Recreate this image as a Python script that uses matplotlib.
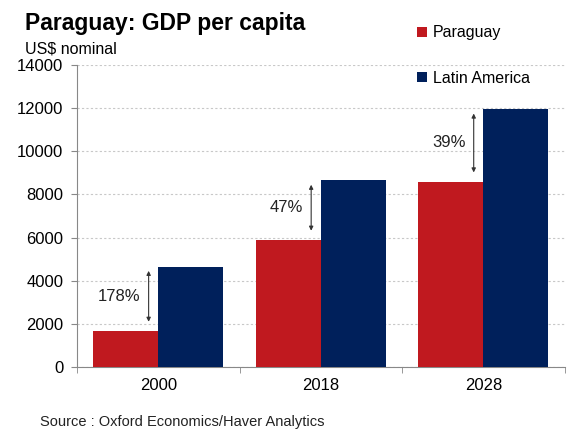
import numpy as np
import matplotlib
matplotlib.use("Agg")
import matplotlib.pyplot as plt

# data
years = ["2000", "2018", "2028"]
paraguay = [1680, 5900, 8600]
latam = [4660, 8650, 11950]
gaps = ["178%", "47%", "39%"]

RED = "#C0191F"
NAVY = "#00205B"

plt.rcParams["font.family"] = ["Liberation Sans", "DejaVu Sans"]

fig = plt.figure(figsize=(5.67, 4.36), dpi=100)
ax = fig.add_axes([0.136, 0.158, 0.860, 0.693])

x = np.arange(len(years))
w = 0.4
ax.bar(x - w / 2, paraguay, w, color=RED, label="Paraguay", zorder=3)
ax.bar(x + w / 2, latam, w, color=NAVY, label="Latin America", zorder=3)

# double arrows showing the gap
for xi, p, l, txt in zip(x, paraguay, latam, gaps):
    ax.annotate("", xy=(xi - 0.06, l - 200), xytext=(xi - 0.06, p + 420),
                arrowprops=dict(arrowstyle="<|-|>", color="#333333", lw=0.8,
                                mutation_scale=6, shrinkA=0, shrinkB=0),
                zorder=4)
    ax.annotate(txt, xy=(xi - 0.06, (p + 420 + l - 200) / 2), xytext=(-6, 0),
                textcoords="offset points", ha="right", va="center",
                fontsize=12, color="#222222")

ax.set_xlim(-0.5, 2.5)
ax.set_ylim(0, 14000)
ax.set_yticks(np.arange(0, 14001, 2000))
ax.set_xticks(x)
ax.set_xticklabels(years)
ax.set_xticks([-0.5, 0.5, 1.5, 2.5], minor=True)
ax.tick_params(axis="x", which="major", length=0, labelsize=12, pad=8)
ax.tick_params(axis="x", which="minor", length=4, color="#888888")
ax.tick_params(axis="y", length=4, color="#888888", labelsize=12, pad=6)

ax.grid(axis="y", color="#c8c8c8", linestyle=(0, (2, 2)), linewidth=0.8, zorder=0)
for s in ["top", "right"]:
    ax.spines[s].set_visible(False)
for s in ["left", "bottom"]:
    ax.spines[s].set_color("#888888")

fig.text(0.044, 0.946, "Paraguay: GDP per capita", fontsize=16.5, fontweight="bold",
         va="center")
fig.text(0.044, 0.888, "US$ nominal", fontsize=11.5, va="center")
fig.text(0.07, 0.032, "Source : Oxford Economics/Haver Analytics", fontsize=10.5,
         va="center", color="#222222")

leg = fig.legend(loc="upper left", bbox_to_anchor=(0.71, 0.975), frameon=False,
                 handlelength=0.6, handleheight=0.6, handletextpad=0.4,
                 labelspacing=1.9, fontsize=11.5)

fig.savefig("out.png", dpi=100)
